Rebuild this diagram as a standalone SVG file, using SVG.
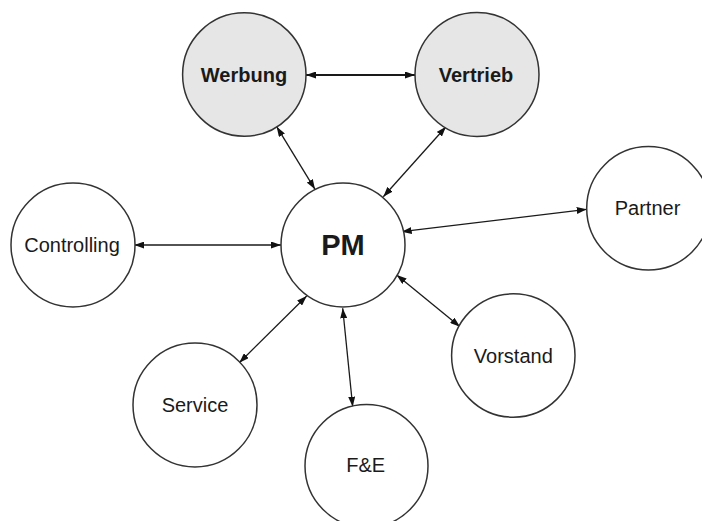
<svg xmlns="http://www.w3.org/2000/svg" width="702" height="521" viewBox="0 0 702 521">
<defs>
<marker id="arr" viewBox="0 0 10 7" refX="10" refY="3.5" markerWidth="10" markerHeight="7" markerUnits="userSpaceOnUse" orient="auto-start-reverse">
<path d="M0,0 L10,3.5 L0,7 z" fill="#111"/>
</marker>
</defs>
<style>
.n{fill:#fff;stroke:#333;stroke-width:1.5}
.g{fill:#e6e6e6}
.t{font-family:"Liberation Sans",Arial,sans-serif;font-size:20px;fill:#1a1a1a;text-anchor:middle}
.b{font-weight:bold}
.c line{stroke:#1a1a1a;stroke-width:1.3;marker-start:url(#arr);marker-end:url(#arr)}
</style>
<rect width="702" height="521" fill="#fff"/>
<g id="connectors" class="c">
<line x1="306" y1="75" x2="415" y2="75" style="stroke-width:2"/>
<line x1="276.7" y1="126.7" x2="315" y2="189.3"/>
<line x1="446" y1="126.7" x2="383.3" y2="196.7"/>
<line x1="134.3" y1="245" x2="281" y2="245"/>
<line x1="401.7" y1="231.7" x2="586.7" y2="209.3"/>
<line x1="396.7" y1="275" x2="460" y2="326.7"/>
<line x1="306.7" y1="296" x2="239.3" y2="362.7"/>
<line x1="342.7" y1="308.3" x2="352.7" y2="406.7"/>
</g>
<g id="werbung"><circle class="n g" cx="244.3" cy="74.5" r="61.7"/><text class="t b" x="244" y="81.5">Werbung</text></g>
<g id="vertrieb"><circle class="n g" cx="477" cy="74.5" r="62"/><text class="t b" x="476" y="81.5">Vertrieb</text></g>
<g id="pm"><circle class="n" cx="343" cy="245" r="62"/><text class="t b" x="343" y="255" style="font-size:29px">PM</text></g>
<g id="controlling"><circle class="n" cx="73" cy="245" r="62"/><text class="t" x="72" y="252">Controlling</text></g>
<g id="partner"><circle class="n" cx="648.4" cy="208.3" r="61.7"/><text class="t" x="647.5" y="215">Partner</text></g>
<g id="vorstand"><circle class="n" cx="513.3" cy="355.5" r="61.7"/><text class="t" x="513.3" y="362.5">Vorstand</text></g>
<g id="service"><circle class="n" cx="195" cy="405" r="62"/><text class="t" x="195" y="412">Service</text></g>
<g id="fe"><circle class="n" cx="366.5" cy="466" r="61.5"/><text class="t" x="365.7" y="472">F&amp;E</text></g>
</svg>
